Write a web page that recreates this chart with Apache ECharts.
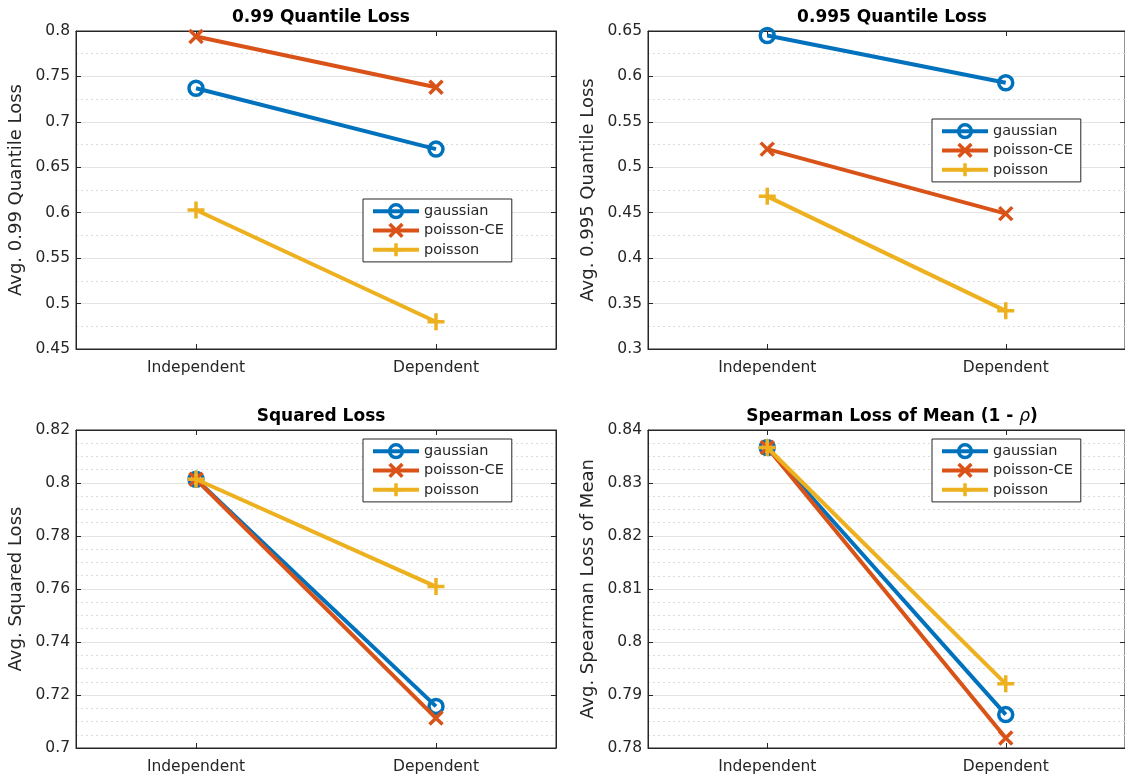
<!DOCTYPE html>
<html>
<head>
<meta charset="utf-8">
<script src="https://cdn.jsdelivr.net/npm/echarts@6/dist/echarts.min.js"></script>
<style>
  html, body { margin: 0; padding: 0; background: #fff; }
  #chart { width: 1125px; height: 779px; }
</style>
</head>
<body>
<div id="chart"></div>
<script>
// ---------- data ----------
const categories = ['Independent', 'Dependent'];
const seriesNames = ['gaussian', 'poisson-CE', 'poisson'];

const q99Gaussian   = [0.737, 0.670];
const q99PoissonCE  = [0.794, 0.738];
const q99Poisson    = [0.603, 0.480];

const q995Gaussian  = [0.645, 0.593];
const q995PoissonCE = [0.520, 0.449];
const q995Poisson   = [0.468, 0.342];

const sqGaussian    = [0.8014, 0.7157];
const sqPoissonCE   = [0.8014, 0.7113];
const sqPoisson     = [0.8014, 0.7609];

const spGaussian    = [0.8367, 0.7863];
const spPoissonCE   = [0.8367, 0.7819];
const spPoisson     = [0.8367, 0.7921];

const q99Ticks  = [0.45, 0.5, 0.55, 0.6, 0.65, 0.7, 0.75, 0.8];
const q995Ticks = [0.3, 0.35, 0.4, 0.45, 0.5, 0.55, 0.6, 0.65];
const sqTicks   = [0.7, 0.72, 0.74, 0.76, 0.78, 0.8, 0.82];
const spTicks   = [0.78, 0.79, 0.8, 0.81, 0.82, 0.83, 0.84];

const titles = ['0.99 Quantile Loss', '0.995 Quantile Loss', 'Squared Loss', 'Spearman Loss of Mean (1 - {i|ρ})'];
const yNames = ['Avg. 0.99 Quantile Loss', 'Avg. 0.995 Quantile Loss', 'Avg. Squared Loss', 'Avg. Spearman Loss of Mean'];

// ---------- styling / layout ----------
const FONT = 'DejaVu Sans';
const TXT = '#262626';
const colors = ['#0072BD', '#D95319', '#EDB120'];
const symbols = [
  'circle',
  'path://M0,0L10,10M0,10L10,0',
  'path://M5,0L5,10M0,5L10,5'
];
const symbolSizes = [14, 13, 17];

const panels = [
  { ticks: q99Ticks,  data: [q99Gaussian, q99PoissonCE, q99Poisson],   minor: 2, grid: {left: 76,  top: 31,  width: 480, height: 318}, legend: {left: 363, top: 199} },
  { ticks: q995Ticks, data: [q995Gaussian, q995PoissonCE, q995Poisson], minor: 2, grid: {left: 648, top: 31,  width: 478, height: 318}, legend: {left: 932, top: 119} },
  { ticks: sqTicks,   data: [sqGaussian, sqPoissonCE, sqPoisson],       minor: 4, grid: {left: 76,  top: 430, width: 480, height: 318}, legend: {left: 363, top: 439} },
  { ticks: spTicks,   data: [spGaussian, spPoissonCE, spPoisson],       minor: 4, grid: {left: 648, top: 430, width: 478, height: 318}, legend: {left: 932, top: 439} }
];

const option = {
  animation: false,
  backgroundColor: '#fff',
  title: [], grid: [], xAxis: [], yAxis: [], series: [], legend: []
};

panels.forEach((p, k) => {
  const g = p.grid;
  option.grid.push(Object.assign({ show: true, borderColor: TXT, borderWidth: 1, backgroundColor: '#fff' }, g));
  option.title.push({
    text: titles[k],
    left: g.left + g.width / 2,
    textAlign: 'center',
    top: g.top - 27,
    textStyle: {
      fontFamily: FONT, fontSize: 17, fontWeight: 'bold', color: '#000',
      rich: { i: { fontFamily: FONT, fontSize: 17, fontStyle: 'italic', fontWeight: 'normal', color: '#000' } }
    }
  });
  const ymin = p.ticks[0], ymax = p.ticks[p.ticks.length - 1];
  const yint = +(p.ticks[1] - p.ticks[0]).toFixed(6);
  // bottom x axis
  option.xAxis.push({
    type: 'category', gridIndex: k, data: categories, position: 'bottom',
    boundaryGap: true,
    axisLine: { show: true, lineStyle: { color: TXT, width: 1 } },
    axisTick: { show: true, inside: true, alignWithLabel: true, length: 5, lineStyle: { color: TXT } },
    axisLabel: { fontFamily: FONT, fontSize: 15.5, color: TXT, margin: 11 },
    splitLine: { show: false }
  });
  // top x axis (box ticks)
  option.xAxis.push({
    type: 'category', gridIndex: k, data: categories, position: 'top',
    boundaryGap: true,
    axisLine: { show: true, lineStyle: { color: TXT, width: 1 } },
    axisTick: { show: true, inside: true, alignWithLabel: true, length: 5, lineStyle: { color: TXT } },
    axisLabel: { show: false },
    splitLine: { show: false }
  });
  // left y axis
  option.yAxis.push({
    type: 'value', gridIndex: k, position: 'left',
    min: ymin, max: ymax, interval: yint,
    name: yNames[k], nameLocation: 'middle', nameGap: 51,
    nameTextStyle: { fontFamily: FONT, fontSize: 18, color: TXT },
    axisLine: { show: true, lineStyle: { color: TXT, width: 1 } },
    axisTick: { show: true, inside: true, length: 5, lineStyle: { color: TXT } },
    axisLabel: { fontFamily: FONT, fontSize: 15.5, color: TXT, margin: 6 },
    splitLine: { show: true, lineStyle: { color: '#e3e3e3', width: 1 } },
    minorTick: { show: false, splitNumber: p.minor },
    minorSplitLine: { show: true, lineStyle: { color: '#dcdcdc', width: 1, type: [2, 3] } }
  });
  // right y axis (box ticks)
  option.yAxis.push({
    type: 'value', gridIndex: k, position: 'right',
    min: ymin, max: ymax, interval: yint,
    axisLine: { show: true, lineStyle: { color: TXT, width: 1 } },
    axisTick: { show: true, inside: true, length: 5, lineStyle: { color: TXT } },
    axisLabel: { show: false },
    splitLine: { show: false }
  });

  seriesNames.forEach((name, s) => {
    option.series.push({
      name: name, type: 'line',
      xAxisIndex: 2 * k, yAxisIndex: 2 * k,
      data: p.data[s],
      symbol: symbols[s], symbolSize: symbolSizes[s], symbolKeepAspect: true,
      showAllSymbol: true,
      lineStyle: { color: colors[s], width: 4 },
      itemStyle: { color: 'rgba(255,255,255,0)', borderColor: colors[s], borderWidth: 3.5 },
      emphasis: { disabled: true },
      z: 3 + s
    });
  });

  option.legend.push({
    orient: 'vertical',
    left: p.legend.left, top: p.legend.top,
    data: seriesNames,
    itemWidth: 46, itemHeight: 16, itemGap: 3,
    padding: [4, 8, 4, 8],
    backgroundColor: '#fff',
    borderColor: TXT, borderWidth: 1, borderRadius: 0,
    selectedMode: false,
    lineStyle: { width: 4 },
    itemStyle: { borderWidth: 3.5 },
    textStyle: { fontFamily: FONT, fontSize: 14.5, color: TXT }
  });
});

const chart = echarts.init(document.getElementById('chart'), null, { renderer: 'canvas' });
chart.setOption(option);
</script>
</body>
</html>
